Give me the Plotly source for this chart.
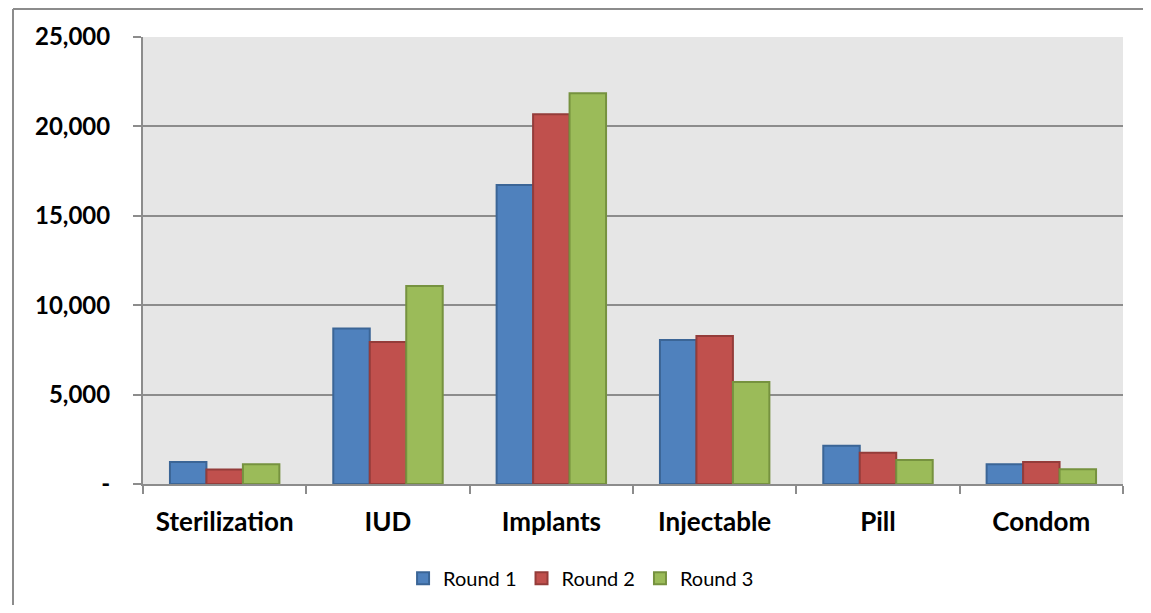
import plotly.graph_objects as go

categories = ["Sterilization", "IUD", "Implants", "Injectable", "Pill", "Condom"]
round1 = [1230, 8700, 16720, 8050, 2140, 1100]
round2 = [810, 7940, 20680, 8280, 1750, 1230]
round3 = [1100, 11070, 21850, 5700, 1340, 820]
series_names = ["Round 1", "Round 2", "Round 3"]
y_tickvals = [0, 5000, 10000, 15000, 20000, 25000]
y_ticktext = ["-", "5,000", "10,000", "15,000", "20,000", "25,000"]

fills = ["#4F81BD", "#C0504D", "#9BBB59"]
edges = ["#3B6596", "#943C3A", "#76923F"]

fig = go.Figure()
for name, vals, fc, ec in zip(series_names, [round1, round2, round3], fills, edges):
    fig.add_trace(go.Bar(
        x=categories, y=vals, name=name,
        marker=dict(color=fc, line=dict(color=ec, width=2)),
    ))

grey = "#8C8C8C"
plot_h = 447
fig.update_layout(
    width=1135, height=597,
    margin=dict(l=135, r=20, t=29, b=121, autoexpand=False),
    paper_bgcolor="white",
    plot_bgcolor="#E6E6E6",
    barmode="group",
    bargap=0.33,
    bargroupgap=0.0,
    font=dict(family="Lato, sans-serif", color="black"),
    legend=dict(
        orientation="h", x=0.447, xanchor="center", y=-0.211, yanchor="middle",
        font=dict(size=20, family="Lato, sans-serif"),
        itemwidth=30, traceorder="normal",
    ),
    xaxis=dict(
        showgrid=False, showline=True, linecolor=grey, linewidth=2,
        ticks="outside", ticklen=8, tickwidth=2, tickcolor=grey,
        tickson="boundaries",
        tickfont=dict(size=26, weight="bold"),
        ticklabelstandoff=14,
    ),
    yaxis=dict(
        range=[0, 25000], tickvals=y_tickvals, ticktext=y_ticktext,
        showgrid=True, gridcolor=grey, gridwidth=2,
        showline=True, linecolor=grey, linewidth=2,
        ticks="outside", ticklen=8, tickwidth=2, tickcolor=grey,
        tickfont=dict(size=24, weight="bold"),
        ticklabelstandoff=18,
        zeroline=False,
    ),
    shapes=[
        dict(type="line", xref="paper", yref="paper",
             x0=-130 / 980, x1=1040 / 980,
             y0=(476 - 1) / plot_h, y1=(476 - 1) / plot_h,
             line=dict(color=grey, width=2)),
        dict(type="line", xref="paper", yref="paper",
             x0=-130 / 980, x1=-130 / 980,
             y0=(476 - 1) / plot_h, y1=(476 - 620) / plot_h,
             line=dict(color=grey, width=2)),
    ],
)

fig.write_html("out.html")
